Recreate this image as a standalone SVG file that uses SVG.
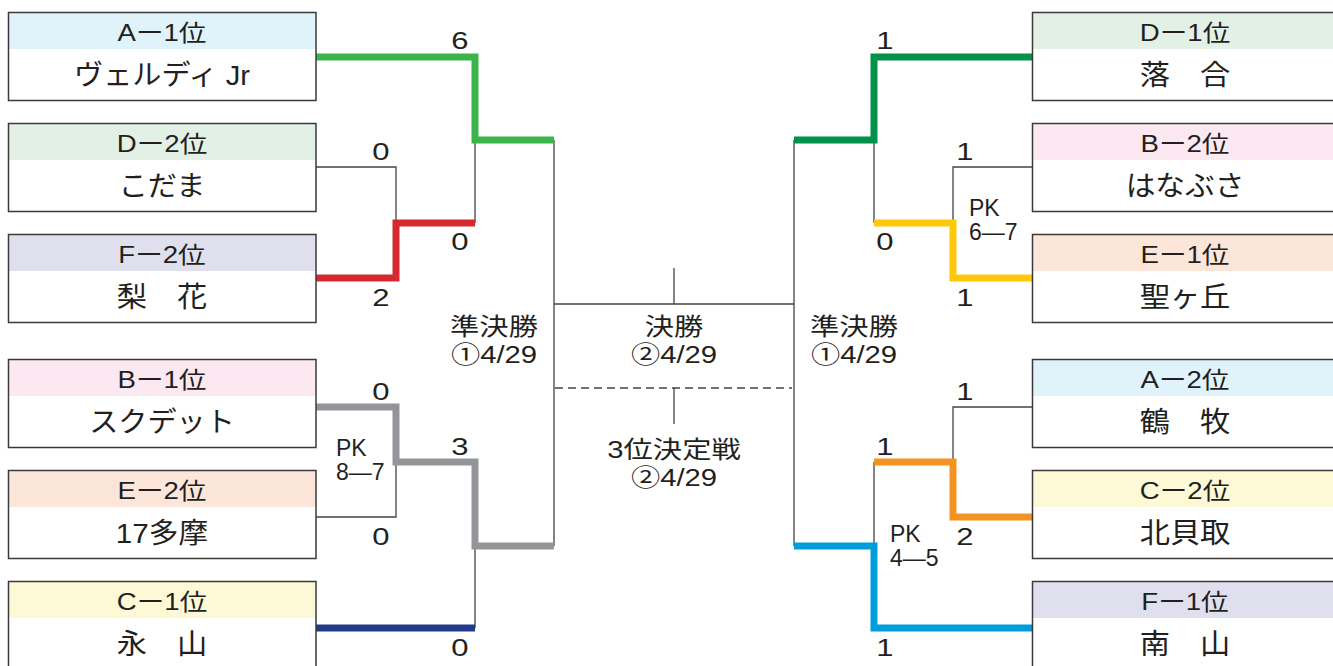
<svg xmlns="http://www.w3.org/2000/svg" width="1333" height="666" viewBox="0 0 1333 666">
<style>
text{font-family:"Liberation Sans","Noto Sans CJK JP",sans-serif;fill:#231f20;text-anchor:middle}
.hd{font-size:23px}
.nm{font-size:28px}
.sc{font-size:23px}
.lb{font-size:24px}
.pk{font-size:23px;text-anchor:start}
.box{fill:none;stroke:#3a3a3a;stroke-width:1.5}
.body{fill:#fff}
.thin{fill:none;stroke:#444;stroke-width:1.3}
.thick{fill:none;stroke-width:7;stroke-linejoin:miter;stroke-linecap:butt}
.dash{fill:none;stroke:#444;stroke-width:1.3;stroke-dasharray:8 5}
</style>
<rect width="1333" height="666" fill="#fff"/>

<g id="connectors">
  <path class="thin" d="M554,140 V546 M794,140 V546 M554,304 H794 M674,268 V304 M674,388 V424"/>
  <path class="dash" d="M555,388 H792"/>
  <path class="thin" d="M316,167 H396 V223 M475,140 V223 M316,517 H396 V462 M475,546 V628"/>
  <path class="thin" d="M1032,167 H953 V223 M874,140 V223 M1032,407 H953 V462 M874,462 V546"/>
  <path class="thick" stroke="#3ab54a" d="M316,57 H475 V140 H554"/>
  <path class="thick" stroke="#d42a2f" d="M316,278 H396 V223 H475"/>
  <path class="thick" stroke="#939598" d="M316,407 H396 V462 H475 V546 H554"/>
  <path class="thick" stroke="#233a8a" d="M316,628 H475"/>
  <path class="thick" stroke="#00924a" d="M1032,57 H874 V140 H794"/>
  <path class="thick" stroke="#ffc90a" d="M1032,278 H953 V223 H874"/>
  <path class="thick" stroke="#f39322" d="M1032,517 H953 V462 H874"/>
  <path class="thick" stroke="#009ddc" d="M1032,628 H874 V546 H794"/>
</g>

<g id="scores">
  <text class="sc" transform="translate(460 49) scale(1.35 1)">6</text>
  <text class="sc" transform="translate(381 160) scale(1.35 1)">0</text>
  <text class="sc" transform="translate(460 250) scale(1.35 1)">0</text>
  <text class="sc" transform="translate(381 306) scale(1.35 1)">2</text>
  <text class="sc" transform="translate(381 400) scale(1.35 1)">0</text>
  <text class="sc" transform="translate(460 455) scale(1.35 1)">3</text>
  <text class="sc" transform="translate(381 545) scale(1.35 1)">0</text>
  <text class="sc" transform="translate(460 656) scale(1.35 1)">0</text>
  <text class="sc" transform="translate(885 49) scale(1.35 1)">1</text>
  <text class="sc" transform="translate(965 160) scale(1.35 1)">1</text>
  <text class="sc" transform="translate(885 250) scale(1.35 1)">0</text>
  <text class="sc" transform="translate(965 306) scale(1.35 1)">1</text>
  <text class="sc" transform="translate(965 400) scale(1.35 1)">1</text>
  <text class="sc" transform="translate(885 455) scale(1.35 1)">1</text>
  <text class="sc" transform="translate(965 545) scale(1.35 1)">2</text>
  <text class="sc" transform="translate(885 656) scale(1.35 1)">1</text>
  <text class="pk" x="336" y="456">PK</text>
  <text class="pk" x="336" y="480">8—7</text>
  <text class="pk" x="969" y="216">PK</text>
  <text class="pk" x="969" y="240">6—7</text>
  <text class="pk" x="890" y="542">PK</text>
  <text class="pk" x="890" y="566">4—5</text>
</g>

<g id="round-labels">
  <text class="lb" transform="translate(494 335) scale(1.22 1)">準決勝</text>
  <text class="lb" transform="translate(494 363) scale(1.22 1)">①4/29</text>
  <text class="lb" transform="translate(674 335) scale(1.22 1)">決勝</text>
  <text class="lb" transform="translate(674 363) scale(1.22 1)">②4/29</text>
  <text class="lb" transform="translate(674 458) scale(1.22 1)">3位決定戦</text>
  <text class="lb" transform="translate(674 486) scale(1.22 1)">②4/29</text>
  <text class="lb" transform="translate(854 335) scale(1.22 1)">準決勝</text>
  <text class="lb" transform="translate(854 363) scale(1.22 1)">①4/29</text>
</g>

<g id="node-A1">
  <rect class="body" x="8.5" y="12.5" width="307.5" height="88"/>
  <rect x="8.5" y="12.5" width="307.5" height="36.5" fill="#e0f3fa"/>
  <rect class="box" x="8.5" y="12.5" width="307.5" height="88"/>
  <text class="hd" transform="translate(162 41) scale(1.2 1)">Aー1位</text>
  <text class="nm" transform="translate(162 85) scale(1.04 1)">ヴェルディ Jr</text>
</g>
<g id="node-D2">
  <rect class="body" x="8.5" y="123.5" width="307.5" height="88"/>
  <rect x="8.5" y="123.5" width="307.5" height="36.5" fill="#e3f0e5"/>
  <rect class="box" x="8.5" y="123.5" width="307.5" height="88"/>
  <text class="hd" transform="translate(162 152) scale(1.2 1)">Dー2位</text>
  <text class="nm" transform="translate(162 196) scale(1.04 1)">こだま</text>
</g>
<g id="node-F2">
  <rect class="body" x="8.5" y="234.5" width="307.5" height="88"/>
  <rect x="8.5" y="234.5" width="307.5" height="36.5" fill="#e0dfee"/>
  <rect class="box" x="8.5" y="234.5" width="307.5" height="88"/>
  <text class="hd" transform="translate(162 263) scale(1.2 1)">Fー2位</text>
  <text class="nm" transform="translate(162 307) scale(1.08 1)">梨　花</text>
</g>
<g id="node-B1">
  <rect class="body" x="8.5" y="359.5" width="307.5" height="88"/>
  <rect x="8.5" y="359.5" width="307.5" height="36.5" fill="#fce8f0"/>
  <rect class="box" x="8.5" y="359.5" width="307.5" height="88"/>
  <text class="hd" transform="translate(162 388) scale(1.2 1)">Bー1位</text>
  <text class="nm" transform="translate(162 432) scale(1.04 1)">スクデット</text>
</g>
<g id="node-E2">
  <rect class="body" x="8.5" y="470.5" width="307.5" height="88"/>
  <rect x="8.5" y="470.5" width="307.5" height="36.5" fill="#fce6da"/>
  <rect class="box" x="8.5" y="470.5" width="307.5" height="88"/>
  <text class="hd" transform="translate(162 499) scale(1.2 1)">Eー2位</text>
  <text class="nm" transform="translate(162 543) scale(1.06 1)">17多摩</text>
</g>
<g id="node-C1">
  <rect class="body" x="8.5" y="581.5" width="307.5" height="88"/>
  <rect x="8.5" y="581.5" width="307.5" height="36.5" fill="#fdf9d6"/>
  <rect class="box" x="8.5" y="581.5" width="307.5" height="88"/>
  <text class="hd" transform="translate(162 610) scale(1.2 1)">Cー1位</text>
  <text class="nm" transform="translate(162 654) scale(1.08 1)">永　山</text>
</g>

<g id="node-D1">
  <rect class="body" x="1032.5" y="12.5" width="307.5" height="88"/>
  <rect x="1032.5" y="12.5" width="307.5" height="36.5" fill="#e3f0e5"/>
  <rect class="box" x="1032.5" y="12.5" width="307.5" height="88"/>
  <text class="hd" transform="translate(1185 41) scale(1.2 1)">Dー1位</text>
  <text class="nm" transform="translate(1185 85) scale(1.08 1)">落　合</text>
</g>
<g id="node-B2">
  <rect class="body" x="1032.5" y="123.5" width="307.5" height="88"/>
  <rect x="1032.5" y="123.5" width="307.5" height="36.5" fill="#fce8f0"/>
  <rect class="box" x="1032.5" y="123.5" width="307.5" height="88"/>
  <text class="hd" transform="translate(1185 152) scale(1.2 1)">Bー2位</text>
  <text class="nm" transform="translate(1185 196) scale(1.06 1)">はなぶさ</text>
</g>
<g id="node-E1">
  <rect class="body" x="1032.5" y="234.5" width="307.5" height="88"/>
  <rect x="1032.5" y="234.5" width="307.5" height="36.5" fill="#fce6da"/>
  <rect class="box" x="1032.5" y="234.5" width="307.5" height="88"/>
  <text class="hd" transform="translate(1185 263) scale(1.2 1)">Eー1位</text>
  <text class="nm" transform="translate(1185 307) scale(1.08 1)">聖ヶ丘</text>
</g>
<g id="node-A2">
  <rect class="body" x="1032.5" y="359.5" width="307.5" height="88"/>
  <rect x="1032.5" y="359.5" width="307.5" height="36.5" fill="#e0f3fa"/>
  <rect class="box" x="1032.5" y="359.5" width="307.5" height="88"/>
  <text class="hd" transform="translate(1185 388) scale(1.2 1)">Aー2位</text>
  <text class="nm" transform="translate(1185 432) scale(1.08 1)">鶴　牧</text>
</g>
<g id="node-C2">
  <rect class="body" x="1032.5" y="470.5" width="307.5" height="88"/>
  <rect x="1032.5" y="470.5" width="307.5" height="36.5" fill="#fdf9d6"/>
  <rect class="box" x="1032.5" y="470.5" width="307.5" height="88"/>
  <text class="hd" transform="translate(1185 499) scale(1.2 1)">Cー2位</text>
  <text class="nm" transform="translate(1185 543) scale(1.08 1)">北貝取</text>
</g>
<g id="node-F1">
  <rect class="body" x="1032.5" y="581.5" width="307.5" height="88"/>
  <rect x="1032.5" y="581.5" width="307.5" height="36.5" fill="#e0dfee"/>
  <rect class="box" x="1032.5" y="581.5" width="307.5" height="88"/>
  <text class="hd" transform="translate(1185 610) scale(1.2 1)">Fー1位</text>
  <text class="nm" transform="translate(1185 654) scale(1.08 1)">南　山</text>
</g>
</svg>
